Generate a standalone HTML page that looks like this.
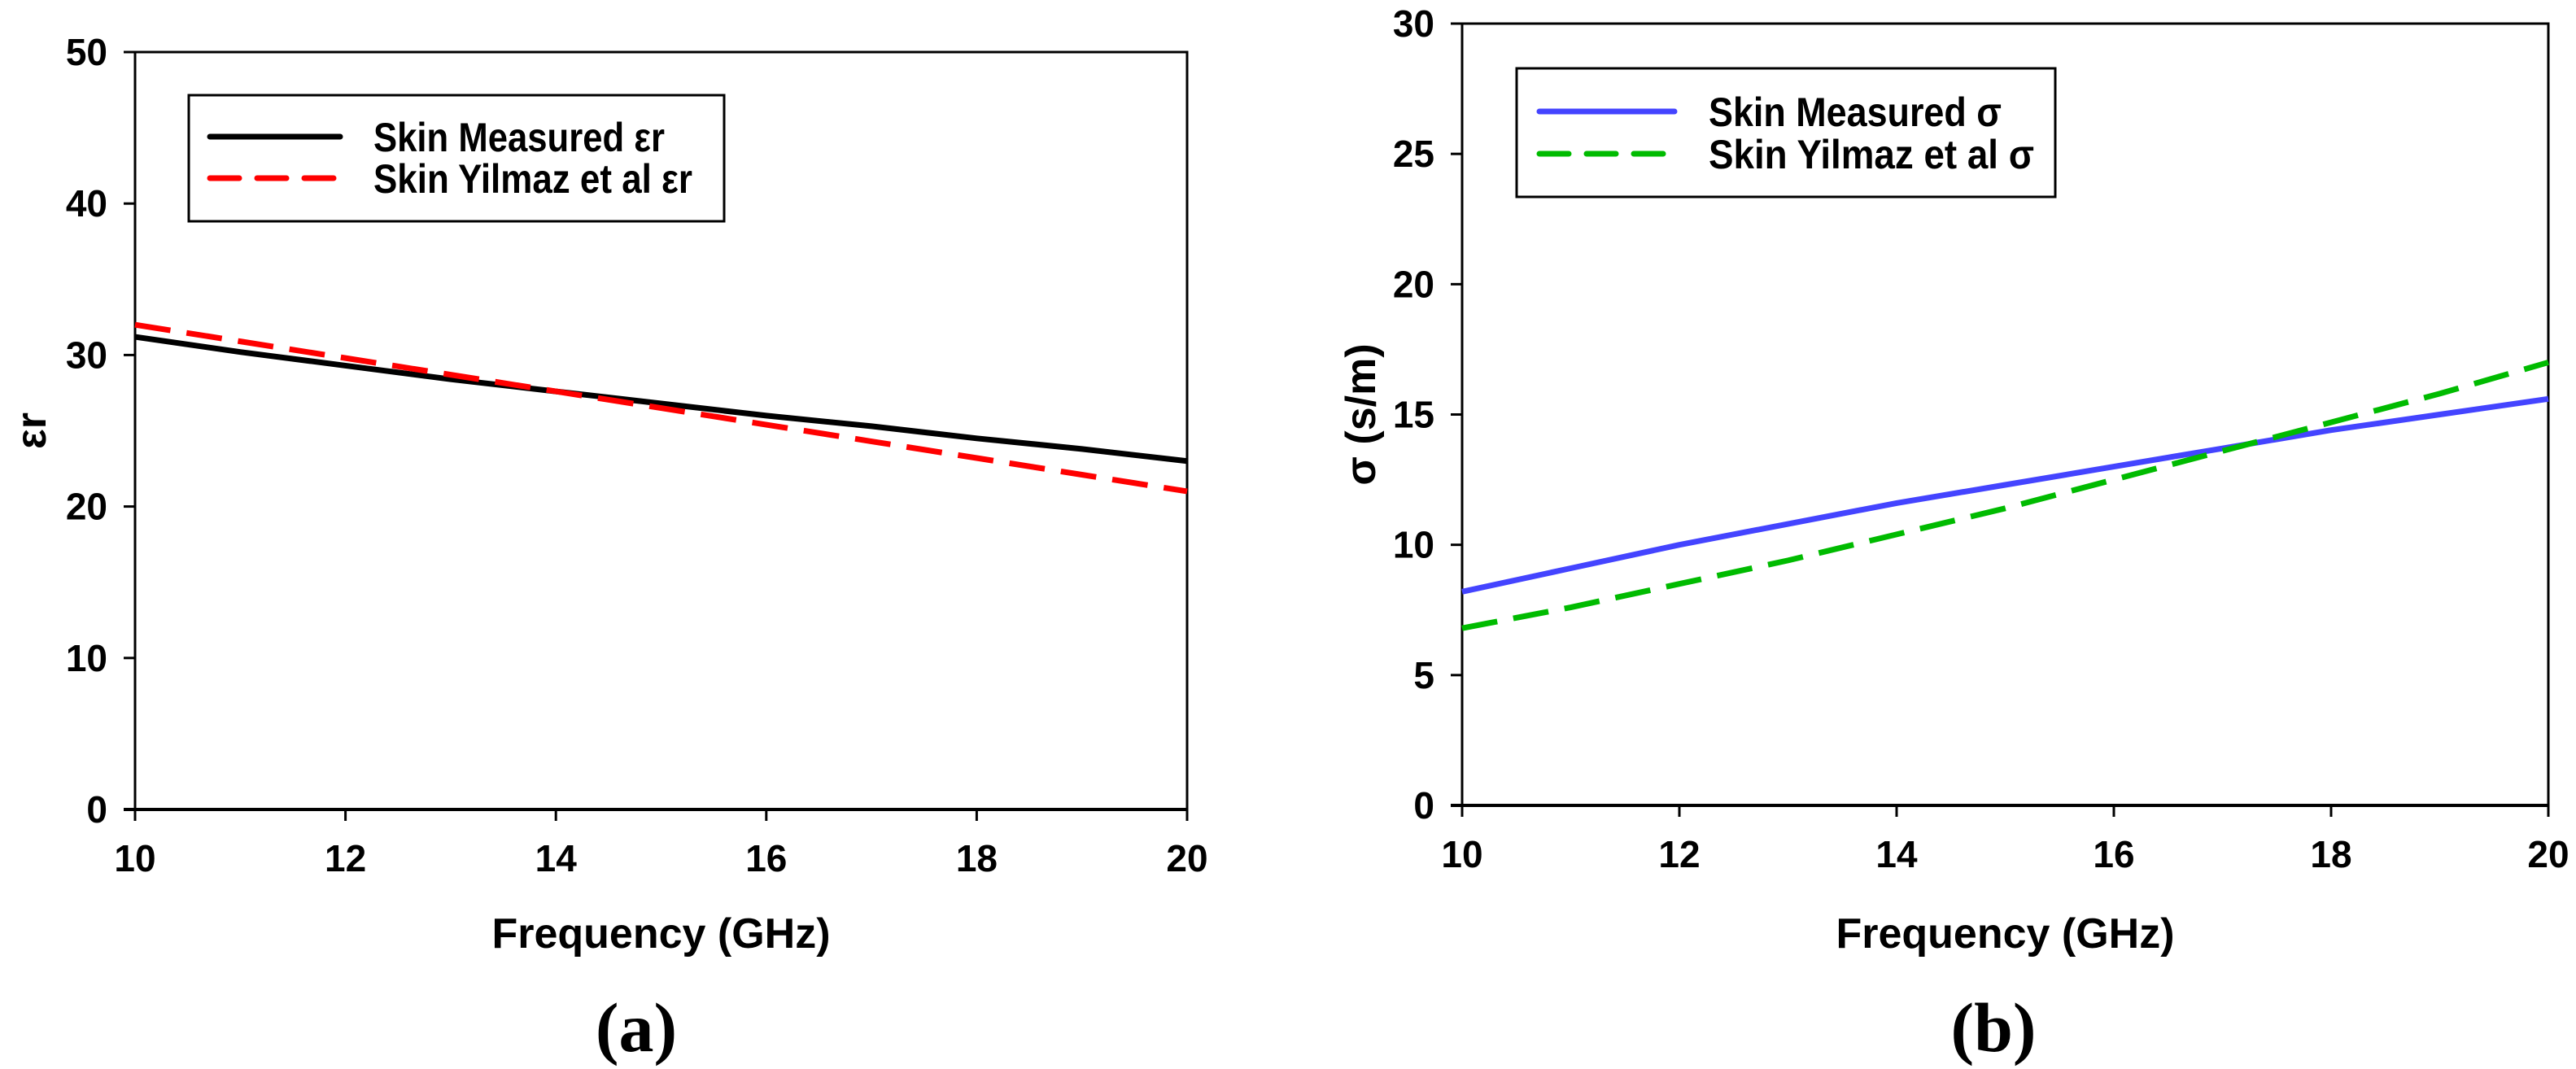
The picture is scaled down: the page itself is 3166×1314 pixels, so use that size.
<!DOCTYPE html>
<html><head><meta charset="utf-8"><style>
html,body{margin:0;padding:0;background:#fff;}
svg{display:block;}
text{font-family:"Liberation Sans Narrow","Liberation Sans",sans-serif;font-weight:bold;fill:#000;}
.cap{font-family:"Liberation Serif",serif;font-weight:bold;}
</style></head><body>
<svg id="fig" width="3166" height="1314" viewBox="0 0 3166 1314" xmlns="http://www.w3.org/2000/svg">
<g id="pa"></g>
<g id="pb"></g>
</svg>
<script>
const freqTicks = [10,12,14,16,18,20];
const aYTicks = [0,10,20,30,40,50];
const bYTicks = [0,5,10,15,20,25,30];
const aFreq = [10,11,12,13,14,15,16,17,18,19,20];
const aMeasured = [31.2,30.2,29.3,28.4,27.6,26.8,26.0,25.3,24.5,23.8,23.0];
const aYilmaz = [32.0,30.9,29.8,28.7,27.6,26.5,25.4,24.3,23.2,22.1,21.0];
const bFreq = [10,11,12,13,14,15,16,17,18,19,20];
const bMeasured = [8.2,9.1,10.0,10.8,11.6,12.3,13.0,13.7,14.4,15.0,15.6];
const bYilmaz = [6.8,7.6,8.5,9.4,10.4,11.4,12.5,13.6,14.7,15.8,17.0];
const NS='http://www.w3.org/2000/svg';
function mk(parent,tag,attrs,txt){const e=document.createElementNS(NS,tag);for(const k in attrs)e.setAttribute(k,attrs[k]);if(txt!==undefined)e.textContent=txt;parent.appendChild(e);return e;}
function chart(g,cfg){
  const sx=v=>cfg.x0+(v-10)/(20-10)*(cfg.x1-cfg.x0);
  const sy=v=>cfg.y0-(v-0)/(cfg.ymax)*(cfg.y0-cfg.y1);
  let e=mk(g,'rect',{x:cfg.x0,y:cfg.y1,width:cfg.x1-cfg.x0,height:cfg.y0-cfg.y1,fill:'none',stroke:'#000','stroke-width':3});
  
  
  e=mk(g,'line',{x1:cfg.x0-14,x2:cfg.x1,y1:cfg.y0,y2:cfg.y0,stroke:'#000','stroke-width':4});
  
  
  freqTicks.forEach(t=>{
    let l=mk(g,'line',{x1:sx(t),x2:sx(t),y1:cfg.y0,y2:cfg.y0+14,stroke:'#000','stroke-width':3});
    
    
    let tx=mk(g,'text',{x:sx(t),y:cfg.y0+76,'font-size':46,'text-anchor':'middle'},String(t));
    
    
  });
  cfg.yt.forEach(t=>{
    let l=mk(g,'line',{x1:cfg.x0-14,x2:cfg.x0,y1:sy(t),y2:sy(t),stroke:'#000','stroke-width':3});
    
    
    let tx=mk(g,'text',{x:cfg.x0-34,y:sy(t)+16,'font-size':46,'text-anchor':'end'},String(t));
    
    
  });
  cfg.series.forEach(s=>{
    const pts=s.x.map((v,i)=>sx(v)+','+sy(s.y[i])).join(' ');
    const a={points:pts,fill:'none',stroke:s.color,'stroke-width':7,'stroke-linejoin':'round'};
    if(s.dash)a['stroke-dasharray']='44,20';
    let p=mk(g,'polyline',a);
    
    
  });
  const L=cfg.leg;
  let r=mk(g,'rect',{x:L.x,y:L.y,width:L.w,height:L.h,fill:'#fff',stroke:'#000','stroke-width':3});
  
  
  cfg.series.forEach((s,i)=>{
    const yy=L.r[i];
    const a={x1:L.lx0,x2:L.lx1,y1:yy,y2:yy,stroke:s.color,'stroke-width':7,'stroke-linecap':'round'};
    if(s.dash)a['stroke-dasharray']='36,22';
    let l=mk(g,'line',a);
    
    
    let t=mk(g,'text',{x:L.tx,y:yy+18,'font-size':50,textLength:L.tl[i],lengthAdjust:'spacingAndGlyphs'},s.label);
    
    
  });
  let xt=mk(g,'text',{x:(cfg.x0+cfg.x1)/2,y:1165,'font-size':52,'text-anchor':'middle'},'Frequency (GHz)');
  
  
  let yt=mk(g,'text',{x:0,y:0,'font-size':52,'text-anchor':'middle',transform:`translate(${cfg.ylx},${(cfg.y0+cfg.y1)/2}) rotate(-90)`},cfg.ylabel);
  
  
  let c=mk(g,'text',{x:cfg.capx,y:1292,'font-size':86,'text-anchor':'middle','class':'cap'},cfg.cap);
  
  
}
chart(document.getElementById('pa'),{x0:166,x1:1459,y0:995,y1:64,ymax:50,yt:aYTicks,ylx:56,ylabel:'εr',capx:782,cap:'(a)',
  series:[{x:aFreq,y:aMeasured,color:'#000',name:'line-skin-measured-er',label:'Skin Measured εr'},
          {x:aFreq,y:aYilmaz,color:'#ff0000',dash:true,name:'line-skin-yilmaz-er',label:'Skin Yilmaz et al εr'}],
  leg:{x:232,y:117,w:658,h:155,lx0:258,lx1:418,tx:459,r:[168,219],tl:[358,392]}});
chart(document.getElementById('pb'),{x0:1797,x1:3132,y0:990,y1:29,ymax:30,yt:bYTicks,ylx:1690,ylabel:'σ (s/m)',capx:2450,cap:'(b)',
  series:[{x:bFreq,y:bMeasured,color:'#4444ff',name:'line-skin-measured-sigma',label:'Skin Measured σ'},
          {x:bFreq,y:bYilmaz,color:'#00bb00',dash:true,name:'line-skin-yilmaz-sigma',label:'Skin Yilmaz et al σ'}],
  leg:{x:1864,y:84,w:662,h:158,lx0:1892,lx1:2058,tx:2100,r:[137,189],tl:[360,400]}});
</script>
</body></html>
